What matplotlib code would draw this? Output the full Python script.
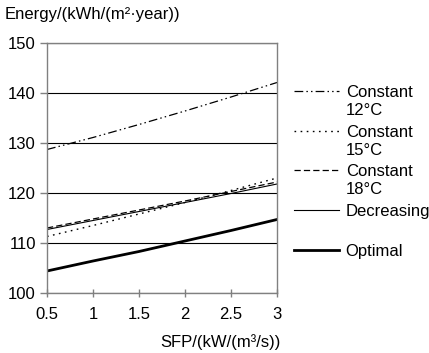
import matplotlib
matplotlib.use("Agg")
import matplotlib.pyplot as plt

plt.rcParams['font.family'] = ['Liberation Sans', 'DejaVu Sans']
plt.rcParams['font.size'] = 12

sfp = [0.5, 1, 1.5, 2, 2.5, 3]
const12 = [128.7, 131.1, 133.7, 136.4, 139.2, 142.1]
const15 = [111.3, 113.5, 115.8, 118.1, 120.5, 123.0]
const18 = [113.0, 114.8, 116.6, 118.4, 120.3, 122.2]
decreasing = [112.7, 114.5, 116.3, 118.1, 119.9, 121.8]
optimal = [104.4, 106.4, 108.3, 110.4, 112.5, 114.7]

labels = ['Constant\n12°C', 'Constant\n15°C', 'Constant\n18°C', 'Decreasing\n ', 'Optimal\n ']
xticks = [0.5, 1, 1.5, 2, 2.5, 3]
yticks = [100, 110, 120, 130, 140, 150]

fig = plt.figure(figsize=(4.29, 3.53), dpi=100)
ax = fig.add_axes([47/429, 1-293/353, 230/429, 250/353])

ax.plot(sfp, const12, color='black', lw=0.9, dashes=[7, 2.5, 1.2, 2.5, 1.2, 2.5], label=labels[0])
ax.plot(sfp, const15, color='black', lw=1.0, dashes=[1.2, 3.2], label=labels[1])
ax.plot(sfp, const18, color='black', lw=0.9, dashes=[5, 2.5], label=labels[2])
ax.plot(sfp, decreasing, color='black', lw=0.8, label=labels[3])
ax.plot(sfp, optimal, color='black', lw=2.0, label=labels[4])

ax.set_xlim(0.5, 3)
ax.set_ylim(100, 150)
ax.set_xticks(xticks)
ax.set_xticklabels(['0.5', '1', '1.5', '2', '2.5', '3'])
ax.set_yticks(yticks)
ax.yaxis.grid(True, color='black', lw=0.8)
ax.set_axisbelow(True)
for s in ax.spines.values():
    s.set_color('#808080')
    s.set_linewidth(1.0)
ax.tick_params(axis='y', direction='out', length=5, color='#808080', width=1.0, labelsize=12, pad=3)
ax.tick_params(axis='x', direction='inout', length=6, color='#808080', width=1.0, labelsize=12, pad=7)

fig.text(5/429, 1-15/353, 'Energy/(kWh/(m²·year))', ha='left', va='center', fontsize=12)
fig.text(281/429, 1-342/353, 'SFP/(kW/(m³/s))', ha='right', va='center', fontsize=12)

leg = ax.legend(loc='upper left', bbox_to_anchor=(294/429, 1-85/353), bbox_transform=fig.transFigure,
                frameon=False, borderpad=0, borderaxespad=0, handlelength=2.7, handletextpad=0.4,
                labelspacing=0.4, fontsize=12)
# put the handle next to the first line of each label
for col in leg._legend_handle_box.get_children():
    for item in col.get_children():
        item.align = 'top'
for t in leg.get_texts():
    t.set_linespacing(1.25)

fig.savefig('out.png', dpi=100)
